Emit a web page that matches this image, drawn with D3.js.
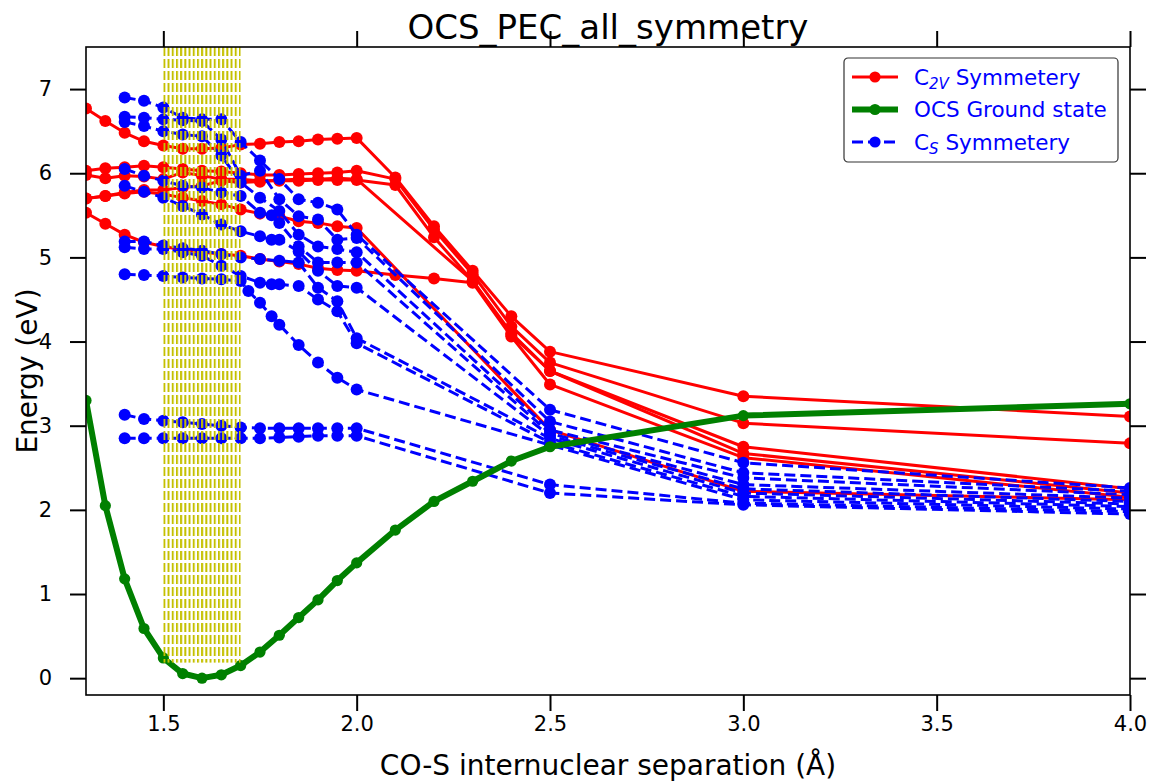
<!DOCTYPE html>
<html>
<head>
<meta charset="utf-8">
<script src="https://cdn.jsdelivr.net/npm/d3@7"></script>
<style>
  body { margin: 0; background: #fff; }
  svg { font-family: "DejaVu Sans", sans-serif; }
</style>
</head>
<body>
<script>
// CO-S separations (Angstrom) used for the C2v scan and the ground state
var rC2v = [1.3, 1.35, 1.4, 1.45, 1.5, 1.55, 1.6, 1.65, 1.7, 1.75, 1.8, 1.85, 1.9, 1.95, 2.0, 2.1, 2.2, 2.3, 2.4, 2.5, 3.0, 4.0];
// CO-S separations used for the Cs scan (a few extra points near 1.7-1.8)
var rCs = [1.4, 1.45, 1.5, 1.55, 1.6, 1.65, 1.7, 1.72, 1.75, 1.78, 1.8, 1.85, 1.9, 1.95, 2.0, 2.5, 3.0, 4.0];

var groundState = [3.30, 2.05, 1.18, 0.59, 0.24, 0.055, 0.0, 0.04, 0.15, 0.31, 0.51, 0.72, 0.93, 1.16, 1.37, 1.76, 2.10, 2.34, 2.58, 2.75, 3.12, 3.26];

// C2v excited states (eV), null = not computed
var c2v1 = [6.77, 6.62, 6.48, 6.38, 6.33, 6.29, 6.29, 6.30, 6.34, 6.35, 6.37, 6.38, 6.40, 6.41, 6.42, 5.95, 5.37, 4.84, 4.30, 3.88, 3.35, 3.11];
var c2v2 = [6.03, 6.06, 6.07, 6.09, 6.07, 6.05, 6.03, 6.02, 6.00, 5.98, 5.98, 5.99, 6.00, 6.01, 6.03, 5.93, 5.33, 4.80, 4.18, 3.75, 3.03, 2.79];
var c2v3 = [5.98, 5.94, 5.97, 5.96, 5.93, 6.01, 5.97, 5.93, 5.93, 5.91, 5.91, 5.91, 5.92, 5.92, 5.92, 5.86, 5.24, 4.72, 4.10, 3.65, 2.75, 2.25];
var c2v4 = [5.70, 5.73, 5.77, 5.80, 5.80, 5.83, 5.85, 5.91, 5.89, 5.90, 5.92, 5.93, 5.93, 5.94, 5.93, null, null, 4.72, 4.08, 3.65, 2.67, 2.20];
var c2v5 = [5.70, 5.73, 5.76, 5.78, 5.75, 5.71, 5.67, 5.63, 5.57, 5.52, 5.49, 5.43, 5.41, 5.37, 5.35, null, null, null, null, 2.95, 2.22, 2.12];
var c2v6 = [5.53, 5.40, 5.27, 5.18, 5.13, 5.09, 5.06, 5.04, 5.02, 4.98, 4.95, 4.92, 4.87, 4.85, 4.84, 4.79, 4.75, 4.70, 4.06, 3.49, 2.62, 2.15];

// Cs excited states (eV)
var cs1  = [6.90, 6.86, 6.78, 6.66, 6.64, 6.64, 6.37, null, 6.15, null, 5.93, 5.69, 5.65, 5.57, 5.27, 3.19, 2.56, 2.26];
var cs2  = [6.67, 6.66, 6.64, 6.63, 6.62, 6.40, 5.97, null, 6.03, null, 5.69, 5.49, 5.45, 5.21, 5.23, 3.05, 2.44, 2.22];
var cs3  = [6.61, 6.56, 6.50, 6.46, 6.44, 6.21, 5.89, null, 5.71, null, 5.55, 5.27, 5.13, 5.10, 5.06, 2.95, 2.38, 2.18];
var cs4  = [6.05, 5.97, 5.91, 5.85, 5.83, 5.77, 5.73, null, 5.53, 5.50, 5.41, 5.13, 4.94, 4.94, 4.94, 2.91, 2.30, 2.14];
var cs5  = [5.85, 5.78, 5.71, 5.61, 5.51, 5.39, 5.31, null, 5.25, 5.21, 5.21, 5.07, 4.84, 4.66, 4.64, 2.88, 2.25, 2.10];
var cs6  = [5.19, 5.19, 5.14, 5.11, 5.08, 5.04, 5.00, null, 4.98, null, 4.96, 4.94, 4.64, 4.48, 4.04, 2.85, 2.20, 2.07];
var cs7  = [5.12, 5.10, 5.10, 5.06, 5.02, 4.90, 4.78, null, 4.70, 4.68, 4.68, 4.66, 4.50, 4.36, 3.98, 2.80, 2.16, 2.04];
var cs8  = [4.80, 4.79, 4.78, 4.76, 4.75, 4.74, 4.72, 4.60, 4.46, 4.30, 4.20, 3.96, 3.75, 3.57, 3.43, 2.77, 2.12, 2.01];
var cs9  = [3.13, 3.08, 3.06, 3.04, 3.02, 3.00, 2.98, null, 2.97, null, 2.97, 2.97, 2.97, 2.97, 2.97, 2.30, 2.08, 1.98];
var cs10 = [2.85, 2.85, 2.85, 2.85, 2.85, 2.85, 2.85, null, 2.85, null, 2.86, 2.87, 2.88, 2.88, 2.88, 2.20, 2.06, 1.95];

// shaded Franck-Condon window
var fcWindow = [1.5, 1.7];

var xTicks = [1.5, 2.0, 2.5, 3.0, 3.5, 4.0];
var yTicks = [0, 1, 2, 3, 4, 5, 6, 7];
var xLimits = [1.3, 4.0];
var yLimits = [-0.2, 7.5];

var c2vCurves = [c2v1, c2v2, c2v3, c2v4, c2v5, c2v6];
var csCurves = [cs1, cs2, cs3, cs4, cs5, cs6, cs7, cs8, cs9, cs10];

var W = 1153, H = 782;
var margin = { left: 86, right: 23, top: 47, bottom: 87 };

var svg = d3.select("body").append("svg")
    .attr("width", W)
    .attr("height", H);

var x = d3.scaleLinear().domain(xLimits).range([margin.left, W - margin.right]);
var y = d3.scaleLinear().domain(yLimits).range([H - margin.bottom, margin.top]);

var defs = svg.append("defs");
defs.append("clipPath").attr("id", "plotclip")
  .append("rect")
    .attr("x", x(xLimits[0])).attr("y", y(yLimits[1]))
    .attr("width", x(xLimits[1]) - x(xLimits[0]))
    .attr("height", y(yLimits[0]) - y(yLimits[1]));

// '|' hatch, broken into short dashes like the raster hatch in the original
var hatch = defs.append("pattern")
    .attr("id", "vhatch")
    .attr("patternUnits", "userSpaceOnUse")
    .attr("x", x(fcWindow[0]))
    .attr("y", y(yLimits[1]))
    .attr("width", 4.2)
    .attr("height", 12);
hatch.append("rect")
    .attr("x", 0).attr("y", 0)
    .attr("width", 2).attr("height", 9)
    .attr("fill", "#c4c000");

function pairs(xs, ys) {
  return xs.map(function(v, i) { return [v, ys[i]]; })
           .filter(function(p) { return p[1] !== null; });
}

var line = d3.line()
    .x(function(d) { return x(d[0]); })
    .y(function(d) { return y(d[1]); });

var plot = svg.append("g").attr("clip-path", "url(#plotclip)");

function drawSeries(xs, ys, color, width, dash, r) {
  var pts = pairs(xs, ys);
  var g = plot.append("g");
  g.append("path")
      .attr("d", line(pts))
      .attr("fill", "none")
      .attr("stroke", color)
      .attr("stroke-width", width)
      .attr("stroke-dasharray", dash)
      .attr("stroke-linejoin", "round");
  g.selectAll("circle")
      .data(pts)
    .enter().append("circle")
      .attr("cx", function(d) { return x(d[0]); })
      .attr("cy", function(d) { return y(d[1]); })
      .attr("r", r)
      .attr("fill", color);
}

c2vCurves.forEach(function(c) { drawSeries(rC2v, c, "#ff0000", 3, null, 6); });
csCurves.forEach(function(c) { drawSeries(rCs, c, "#0000ff", 3, "11,5", 6); });
drawSeries(rC2v, groundState, "#008000", 6, null, 5.6);

// hatched window sits above the curves
plot.append("rect")
    .attr("x", x(fcWindow[0]))
    .attr("width", x(fcWindow[1]) - x(fcWindow[0]))
    .attr("y", y(yLimits[1]))
    .attr("height", (y(yLimits[0]) - y(yLimits[1])) * 0.95)
    .attr("fill", "url(#vhatch)");

// axes on all four sides, ticks pointing out
var tickLen = 16;
function styleAxis(g) {
  g.select(".domain").remove();
  g.selectAll(".tick line").attr("stroke", "#000").attr("stroke-width", 2);
  g.selectAll(".tick text").attr("font-size", 21).attr("fill", "#000")
    .attr("font-family", "DejaVu Sans");
}

svg.append("g")
    .attr("transform", "translate(0," + y(yLimits[0]) + ")")
    .call(d3.axisBottom(x).tickValues(xTicks).tickFormat(d3.format(".1f")).tickSize(tickLen).tickPadding(5))
    .call(styleAxis);
svg.append("g")
    .attr("transform", "translate(0," + y(yLimits[1]) + ")")
    .call(d3.axisTop(x).tickValues(xTicks).tickFormat("").tickSize(tickLen))
    .call(styleAxis);
svg.append("g")
    .attr("transform", "translate(" + x(xLimits[0]) + ",0)")
    .call(d3.axisLeft(y).tickValues(yTicks).tickFormat(d3.format("d")).tickSize(tickLen).tickPadding(18))
    .call(styleAxis);
svg.append("g")
    .attr("transform", "translate(" + x(xLimits[1]) + ",0)")
    .call(d3.axisRight(y).tickValues(yTicks).tickFormat("").tickSize(tickLen))
    .call(styleAxis);

// frame
svg.append("rect")
    .attr("x", x(xLimits[0])).attr("y", y(yLimits[1]))
    .attr("width", x(xLimits[1]) - x(xLimits[0]))
    .attr("height", y(yLimits[0]) - y(yLimits[1]))
    .attr("fill", "none")
    .attr("stroke", "#000")
    .attr("stroke-width", 1.6);

// title and axis labels
svg.append("text")
    .attr("x", (x(xLimits[0]) + x(xLimits[1])) / 2)
    .attr("y", 39)
    .attr("text-anchor", "middle")
    .attr("font-size", 34)
    .text("OCS_PEC_all_symmetry");

svg.append("text")
    .attr("x", (x(xLimits[0]) + x(xLimits[1])) / 2)
    .attr("y", 775)
    .attr("text-anchor", "middle")
    .attr("font-size", 28)
    .text("CO-S internuclear separation (\u00c5)");

svg.append("text")
    .attr("transform", "translate(37," + ((y(yLimits[0]) + y(yLimits[1])) / 2) + ") rotate(-90)")
    .attr("text-anchor", "middle")
    .attr("font-size", 28)
    .text("Energy (eV)");

// legend
var legendItems = [
  { label: "C", sub: "2V", rest: " Symmetery", color: "#ff0000", width: 3, dash: null },
  { label: "OCS Ground state", sub: null, rest: "", color: "#008000", width: 6, dash: null },
  { label: "C", sub: "S", rest: " Symmetery", color: "#0000ff", width: 3, dash: "11,5" }
];

var legend = svg.append("g").attr("transform", "translate(844,58)");
legend.append("rect")
    .attr("width", 274).attr("height", 104)
    .attr("rx", 4)
    .attr("fill", "#fff")
    .attr("fill-opacity", 0.8)
    .attr("stroke", "#333")
    .attr("stroke-width", 1.2);

var rows = legend.selectAll("g.row")
    .data(legendItems)
  .enter().append("g")
    .attr("class", "row")
    .attr("transform", function(d, i) { return "translate(0," + (19 + i * 32.5) + ")"; });

rows.append("line")
    .attr("x1", 8).attr("x2", 54)
    .attr("stroke", function(d) { return d.color; })
    .attr("stroke-width", function(d) { return d.width; })
    .attr("stroke-dasharray", function(d) { return d.dash; });
rows.append("circle")
    .attr("cx", 31).attr("r", 5.6)
    .attr("fill", function(d) { return d.color; });

var labels = rows.append("text")
    .attr("x", 70).attr("y", 7.5)
    .attr("font-size", 21.5)
    .attr("fill", "#0000ff");
labels.append("tspan").text(function(d) { return d.label; });
labels.filter(function(d) { return d.sub; })
  .append("tspan")
    .attr("font-size", 15)
    .attr("font-style", "italic")
    .attr("dy", 4)
    .text(function(d) { return d.sub; });
labels.filter(function(d) { return d.sub; })
  .append("tspan")
    .attr("dy", -4)
    .text(function(d) { return d.rest; });
</script>
</body>
</html>
